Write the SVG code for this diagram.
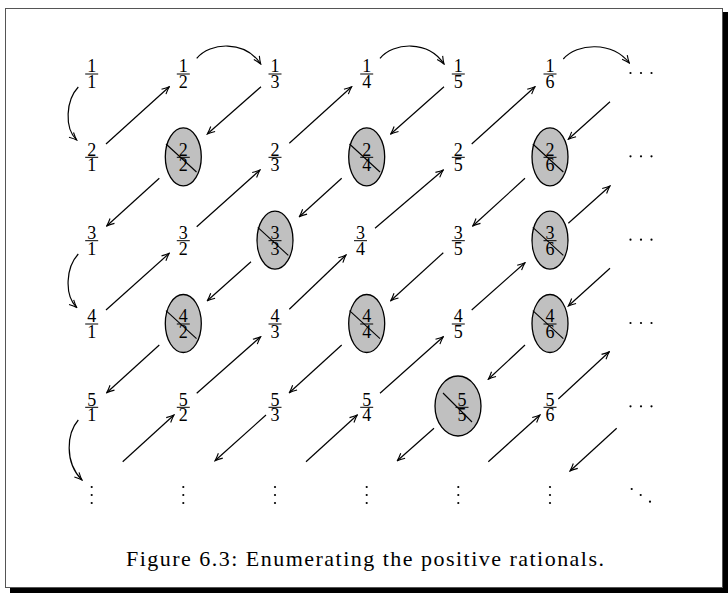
<svg xmlns="http://www.w3.org/2000/svg" width="728" height="593" viewBox="0 0 728 593">
<defs>
<style>
.fr text{font-family:"Liberation Serif","Times New Roman",serif;font-size:18px;text-anchor:middle;fill:#000}
.bar{stroke:#000;stroke-width:1}
.el{fill:#c0c0c0;stroke:#000;stroke-width:1.3}
.sl{stroke:#000;stroke-width:1.1}
.cn path,.cn line{fill:none;stroke:#000;stroke-width:1.2;marker-end:url(#ah)}
.dot{fill:#000}
.cap{font-family:"Liberation Serif","Times New Roman",serif;font-size:22px;text-anchor:middle;fill:#000}
</style>
<marker id="ah" viewBox="-9 -5 10 10" refX="0" refY="0" markerWidth="10" markerHeight="10" orient="auto" markerUnits="userSpaceOnUse">
<path d="M-7.5,-3.3 Q-3,-0.9 0,0 Q-3,0.9 -7.5,3.3" fill="none" stroke="#000" stroke-width="1.1"/>
</marker>
</defs>
<rect x="0" y="0" width="728" height="593" fill="#fff"/>
<g id="frame">
<rect x="5.5" y="8.5" width="717" height="579" fill="#fff" stroke="#555" stroke-width="1"/>
<rect x="723" y="12" width="5" height="581" fill="#000"/>
<rect x="10" y="588" width="718" height="5" fill="#000"/>
</g>

<!-- row 0 -->
<g id="n11" class="fr"><line class="bar" x1="85.2" y1="74" x2="98.2" y2="74"/><text><tspan x="91.7" y="72.3">1</tspan><tspan x="91.7" y="88">1</tspan></text></g>
<g id="n12" class="fr"><line class="bar" x1="176.8" y1="74" x2="189.8" y2="74"/><text><tspan x="183.3" y="72.3">1</tspan><tspan x="183.3" y="88">2</tspan></text></g>
<g id="n13" class="fr"><line class="bar" x1="268.5" y1="74" x2="281.5" y2="74"/><text><tspan x="275" y="72.3">1</tspan><tspan x="275" y="88">3</tspan></text></g>
<g id="n14" class="fr"><line class="bar" x1="360.2" y1="74" x2="373.2" y2="74"/><text><tspan x="366.7" y="72.3">1</tspan><tspan x="366.7" y="88">4</tspan></text></g>
<g id="n15" class="fr"><line class="bar" x1="451.8" y1="74" x2="464.8" y2="74"/><text><tspan x="458.3" y="72.3">1</tspan><tspan x="458.3" y="88">5</tspan></text></g>
<g id="n16" class="fr"><line class="bar" x1="543.5" y1="74" x2="556.5" y2="74"/><text><tspan x="550" y="72.3">1</tspan><tspan x="550" y="88">6</tspan></text></g>
<g id="h0"><circle class="dot" cx="630.5" cy="73" r="1.1"/><circle class="dot" cx="641" cy="73" r="1.1"/><circle class="dot" cx="651.5" cy="73" r="1.1"/></g>

<!-- row 1 -->
<g id="n21" class="fr"><line class="bar" x1="85.2" y1="157.3" x2="98.2" y2="157.3"/><text><tspan x="91.7" y="155.6">2</tspan><tspan x="91.7" y="171.3">1</tspan></text></g>
<g id="n22" class="fr"><ellipse class="el" cx="183.3" cy="156.8" rx="18" ry="29"/><line class="bar" x1="176.8" y1="157.3" x2="189.8" y2="157.3"/><text><tspan x="183.3" y="155.6">2</tspan><tspan x="183.3" y="171.3">2</tspan></text><line class="sl" x1="166" y1="144" x2="196.5" y2="172"/></g>
<g id="n23" class="fr"><line class="bar" x1="268.5" y1="157.3" x2="281.5" y2="157.3"/><text><tspan x="275" y="155.6">2</tspan><tspan x="275" y="171.3">3</tspan></text></g>
<g id="n24" class="fr"><ellipse class="el" cx="366.7" cy="156.8" rx="18" ry="29"/><line class="bar" x1="360.2" y1="157.3" x2="373.2" y2="157.3"/><text><tspan x="366.7" y="155.6">2</tspan><tspan x="366.7" y="171.3">4</tspan></text><line class="sl" x1="349.5" y1="144" x2="380" y2="172"/></g>
<g id="n25" class="fr"><line class="bar" x1="451.8" y1="157.3" x2="464.8" y2="157.3"/><text><tspan x="458.3" y="155.6">2</tspan><tspan x="458.3" y="171.3">5</tspan></text></g>
<g id="n26" class="fr"><ellipse class="el" cx="550" cy="156.8" rx="18" ry="29"/><line class="bar" x1="543.5" y1="157.3" x2="556.5" y2="157.3"/><text><tspan x="550" y="155.6">2</tspan><tspan x="550" y="171.3">6</tspan></text><line class="sl" x1="532.8" y1="144" x2="563.3" y2="172"/></g>
<g id="h1"><circle class="dot" cx="630.5" cy="156.3" r="1.1"/><circle class="dot" cx="641" cy="156.3" r="1.1"/><circle class="dot" cx="651.5" cy="156.3" r="1.1"/></g>

<!-- row 2 -->
<g id="n31" class="fr"><line class="bar" x1="85.2" y1="240.7" x2="98.2" y2="240.7"/><text><tspan x="91.7" y="239">3</tspan><tspan x="91.7" y="254.7">1</tspan></text></g>
<g id="n32" class="fr"><line class="bar" x1="176.8" y1="240.7" x2="189.8" y2="240.7"/><text><tspan x="183.3" y="239">3</tspan><tspan x="183.3" y="254.7">2</tspan></text></g>
<g id="n33" class="fr"><ellipse class="el" cx="275" cy="240.2" rx="18" ry="29"/><line class="bar" x1="268.5" y1="240.7" x2="281.5" y2="240.7"/><text><tspan x="275" y="239">3</tspan><tspan x="275" y="254.7">3</tspan></text><line class="sl" x1="257.8" y1="227.4" x2="288.3" y2="255.4"/></g>
<g id="n34" class="fr"><line class="bar" x1="354" y1="240.7" x2="367" y2="240.7"/><text><tspan x="360.5" y="239">3</tspan><tspan x="360.5" y="254.7">4</tspan></text></g>
<g id="n35" class="fr"><line class="bar" x1="451.8" y1="240.7" x2="464.8" y2="240.7"/><text><tspan x="458.3" y="239">3</tspan><tspan x="458.3" y="254.7">5</tspan></text></g>
<g id="n36" class="fr"><ellipse class="el" cx="550" cy="240.2" rx="18" ry="29"/><line class="bar" x1="543.5" y1="240.7" x2="556.5" y2="240.7"/><text><tspan x="550" y="239">3</tspan><tspan x="550" y="254.7">6</tspan></text><line class="sl" x1="532.8" y1="227.4" x2="563.3" y2="255.4"/></g>
<g id="h2"><circle class="dot" cx="630.5" cy="239.7" r="1.1"/><circle class="dot" cx="641" cy="239.7" r="1.1"/><circle class="dot" cx="651.5" cy="239.7" r="1.1"/></g>

<!-- row 3 -->
<g id="n41" class="fr"><line class="bar" x1="85.2" y1="324" x2="98.2" y2="324"/><text><tspan x="91.7" y="322.3">4</tspan><tspan x="91.7" y="338">1</tspan></text></g>
<g id="n42" class="fr"><ellipse class="el" cx="183.3" cy="323.5" rx="18" ry="29"/><line class="bar" x1="176.8" y1="324" x2="189.8" y2="324"/><text><tspan x="183.3" y="322.3">4</tspan><tspan x="183.3" y="338">2</tspan></text><line class="sl" x1="166" y1="310.7" x2="196.5" y2="338.7"/></g>
<g id="n43" class="fr"><line class="bar" x1="268.5" y1="324" x2="281.5" y2="324"/><text><tspan x="275" y="322.3">4</tspan><tspan x="275" y="338">3</tspan></text></g>
<g id="n44" class="fr"><ellipse class="el" cx="366.7" cy="323.5" rx="18" ry="29"/><line class="bar" x1="360.2" y1="324" x2="373.2" y2="324"/><text><tspan x="366.7" y="322.3">4</tspan><tspan x="366.7" y="338">4</tspan></text><line class="sl" x1="349.5" y1="310.7" x2="380" y2="338.7"/></g>
<g id="n45" class="fr"><line class="bar" x1="451.8" y1="324" x2="464.8" y2="324"/><text><tspan x="458.3" y="322.3">4</tspan><tspan x="458.3" y="338">5</tspan></text></g>
<g id="n46" class="fr"><ellipse class="el" cx="550" cy="323.5" rx="18" ry="29"/><line class="bar" x1="543.5" y1="324" x2="556.5" y2="324"/><text><tspan x="550" y="322.3">4</tspan><tspan x="550" y="338">6</tspan></text><line class="sl" x1="532.8" y1="310.7" x2="563.3" y2="338.7"/></g>
<g id="h3"><circle class="dot" cx="630.5" cy="323" r="1.1"/><circle class="dot" cx="641" cy="323" r="1.1"/><circle class="dot" cx="651.5" cy="323" r="1.1"/></g>

<!-- row 4 -->
<g id="n51" class="fr"><line class="bar" x1="85.2" y1="407.3" x2="98.2" y2="407.3"/><text><tspan x="91.7" y="405.6">5</tspan><tspan x="91.7" y="421.3">1</tspan></text></g>
<g id="n52" class="fr"><line class="bar" x1="176.8" y1="407.3" x2="189.8" y2="407.3"/><text><tspan x="183.3" y="405.6">5</tspan><tspan x="183.3" y="421.3">2</tspan></text></g>
<g id="n53" class="fr"><line class="bar" x1="268.5" y1="407.3" x2="281.5" y2="407.3"/><text><tspan x="275" y="405.6">5</tspan><tspan x="275" y="421.3">3</tspan></text></g>
<g id="n54" class="fr"><line class="bar" x1="360.2" y1="407.3" x2="373.2" y2="407.3"/><text><tspan x="366.7" y="405.6">5</tspan><tspan x="366.7" y="421.3">4</tspan></text></g>
<g id="n55" class="fr"><ellipse class="el" cx="458" cy="406" rx="23" ry="30"/><line class="bar" x1="455.5" y1="407.3" x2="468.5" y2="407.3"/><text><tspan x="462" y="405.6">5</tspan><tspan x="462" y="421.3">5</tspan></text><line class="sl" x1="443" y1="393" x2="472" y2="422"/></g>
<g id="n56" class="fr"><line class="bar" x1="543.5" y1="407.3" x2="556.5" y2="407.3"/><text><tspan x="550" y="405.6">5</tspan><tspan x="550" y="421.3">6</tspan></text></g>
<g id="h4"><circle class="dot" cx="630.5" cy="406.3" r="1.1"/><circle class="dot" cx="641" cy="406.3" r="1.1"/><circle class="dot" cx="651.5" cy="406.3" r="1.1"/></g>

<!-- row 5 dots -->
<g id="v0"><circle class="dot" cx="91.7" cy="487" r="1.1"/><circle class="dot" cx="91.7" cy="495" r="1.1"/><circle class="dot" cx="91.7" cy="503" r="1.1"/></g>
<g id="v1"><circle class="dot" cx="183.3" cy="487" r="1.1"/><circle class="dot" cx="183.3" cy="495" r="1.1"/><circle class="dot" cx="183.3" cy="503" r="1.1"/></g>
<g id="v2"><circle class="dot" cx="275" cy="487" r="1.1"/><circle class="dot" cx="275" cy="495" r="1.1"/><circle class="dot" cx="275" cy="503" r="1.1"/></g>
<g id="v3"><circle class="dot" cx="366.7" cy="487" r="1.1"/><circle class="dot" cx="366.7" cy="495" r="1.1"/><circle class="dot" cx="366.7" cy="503" r="1.1"/></g>
<g id="v4"><circle class="dot" cx="458.3" cy="487" r="1.1"/><circle class="dot" cx="458.3" cy="495" r="1.1"/><circle class="dot" cx="458.3" cy="503" r="1.1"/></g>
<g id="v5"><circle class="dot" cx="550" cy="487" r="1.1"/><circle class="dot" cx="550" cy="495" r="1.1"/><circle class="dot" cx="550" cy="503" r="1.1"/></g>
<g id="dd"><circle class="dot" cx="631.7" cy="489" r="1.1"/><circle class="dot" cx="640.7" cy="495" r="1.1"/><circle class="dot" cx="650" cy="501.7" r="1.1"/></g>

<g id="connectors" class="cn">
<path d="M78.3,87 C66,100 64,128 76.7,140"/>
<path d="M78.3,254 C66,267 64,295 76.7,307.5"/>
<path d="M78.3,420 C67,433 64,462 82,480"/>
<path d="M196.7,58.3 C210,42 245,40 260.7,64"/>
<path d="M380,58.3 C393.3,42 428.3,40 444,64"/>
<path d="M563.3,59 C577,43 612,41 629.3,63"/>
<line x1="106" y1="144" x2="169.3" y2="86.7"/>
<line x1="261" y1="86.7" x2="207.3" y2="134"/>
<line x1="159.3" y1="178.3" x2="106.7" y2="226"/>
<line x1="106" y1="310" x2="169.3" y2="253.3"/>
<line x1="196.7" y1="226.7" x2="260" y2="170"/>
<line x1="289.3" y1="143.3" x2="351.7" y2="86.7"/>
<line x1="444" y1="86.7" x2="390.7" y2="134"/>
<line x1="341.7" y1="178.3" x2="299.3" y2="216.7"/>
<line x1="251" y1="261.7" x2="207.3" y2="300.7"/>
<line x1="159.3" y1="345" x2="106.7" y2="392.7"/>
<line x1="122.7" y1="461.7" x2="174" y2="415"/>
<line x1="196.7" y1="393.3" x2="260.7" y2="336.7"/>
<line x1="289.3" y1="309.3" x2="346" y2="255"/>
<line x1="375" y1="228.3" x2="443.3" y2="170"/>
<line x1="471.7" y1="144" x2="535" y2="86.7"/>
<line x1="610" y1="101.7" x2="568.3" y2="139.3"/>
<line x1="525" y1="178.3" x2="472.7" y2="226"/>
<line x1="443.3" y1="252.7" x2="390.7" y2="300.7"/>
<line x1="341.7" y1="345" x2="289.3" y2="392.7"/>
<line x1="266" y1="415" x2="215" y2="460.7"/>
<line x1="306" y1="461.7" x2="357.3" y2="415"/>
<line x1="380" y1="393.3" x2="443.3" y2="336.7"/>
<line x1="471.7" y1="310" x2="525" y2="262.7"/>
<line x1="568.3" y1="223.3" x2="610" y2="186"/>
<line x1="610" y1="268.3" x2="568.3" y2="306"/>
<line x1="525" y1="345" x2="488.3" y2="379.3"/>
<line x1="434" y1="428.3" x2="397.3" y2="460.7"/>
<line x1="488.3" y1="461.7" x2="540" y2="415"/>
<line x1="558.3" y1="399" x2="609.3" y2="351.7"/>
<line x1="616.7" y1="428.3" x2="570" y2="471"/>
</g>

<text class="cap" x="365" y="566" textLength="478" lengthAdjust="spacing">Figure 6.3: Enumerating the positive rationals.</text>
</svg>
